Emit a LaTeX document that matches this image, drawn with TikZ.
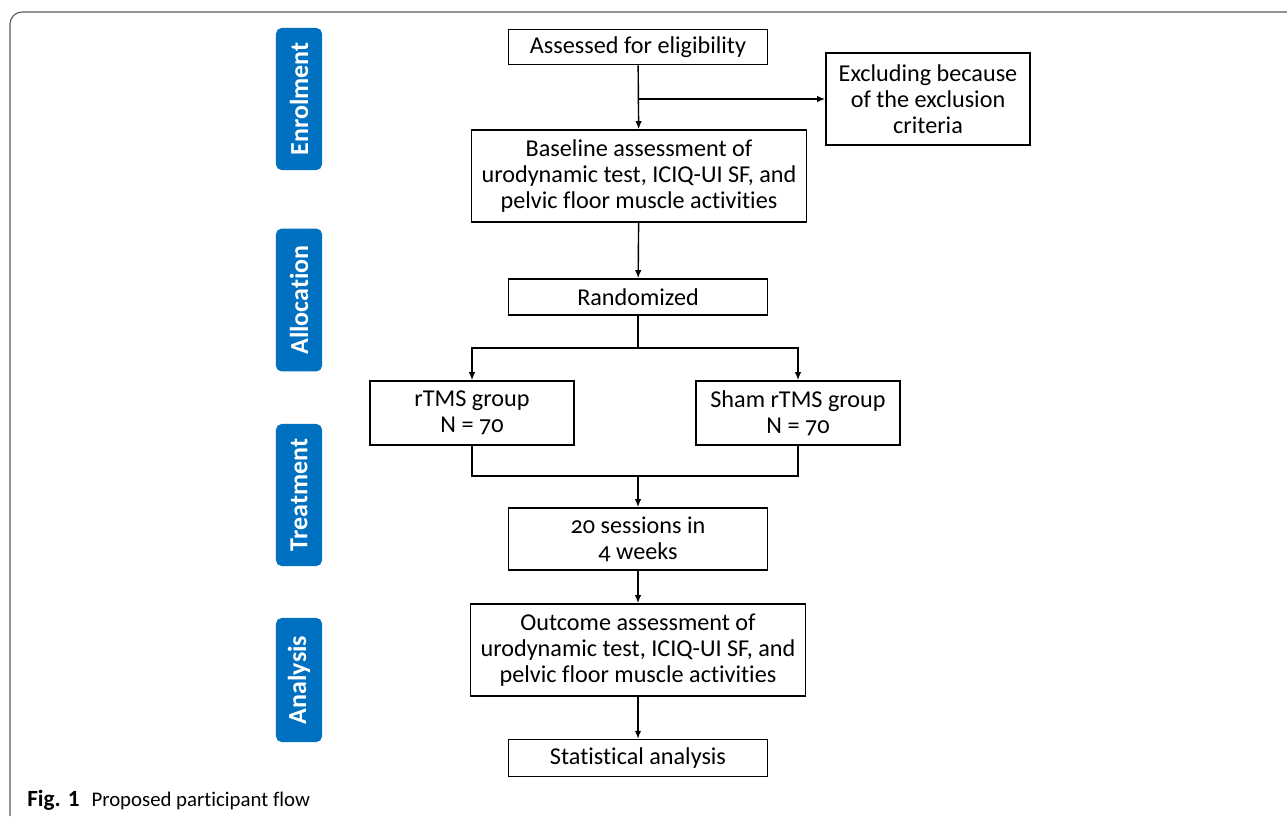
\documentclass[tikz,border=0pt]{standalone}
\usepackage{fontspec}
\setmainfont{Carlito}[Numbers=OldStyle, Ligatures=NoCommon]
\usepackage{xcolor}
\usepackage{tikz}
\usetikzlibrary{arrows.meta, positioning, calc}
\definecolor{tabblue}{RGB}{0,112,192}
\tikzset{
  flowbox/.style={
    draw, line width=1.1pt, align=center,
    font=\fontsize{17.2pt}{18.6pt}\selectfont, fill=white,
    minimum width=6.48cm, inner sep=2pt
  },
  flowboxwide/.style={
    flowbox, minimum width=8.38cm, minimum height=2.3cm
  },
  flowarrow/.style={
    -{Latex[length=2mm,width=1.6mm]}, line width=1pt
  },
  flowline/.style={line width=1pt},
  stagetab/.style={
    rectangle, rounded corners=4pt, fill=tabblue, text=white,
    rotate=90, font=\fontsize{18.5pt}{20pt}\selectfont\bfseries,
    minimum height=1.15cm, inner sep=0pt
  },
}

\begin{document}
\begin{tikzpicture}[x=0.025cm, y=-0.025cm]
  \useasboundingbox (0,0) rectangle (1287,816);

  % --- frame and caption ---
  \draw[gray!70!black, line width=0.8pt, rounded corners=0.3cm]
    (10,816) -- (10,12) -- (1287,12);
  \node[anchor=base west, font=\fontsize{14.8pt}{17pt}\selectfont\addfontfeatures{Numbers=Lining},
    inner sep=0pt] (caption) at (27,806)
    {{\fontsize{16.5pt}{17pt}\selectfont\textbf{Fig. 1}}\hspace{0.3cm}Proposed participant flow};

  % --- stage tabs ---
  \node[stagetab, minimum width=3.55cm] (tabenrol) at (299,99) {Enrolment};
  \node[stagetab, minimum width=3.57cm] (taballoc) at (299,300) {Allocation};
  \node[stagetab, minimum width=3.55cm] (tabtreat) at (299,495) {Treatment};
  \node[stagetab, minimum width=3.1cm] (tabanaly) at (299,680) {Analysis};

  % --- boxes ---
  \node[flowbox, minimum height=0.88cm] (assess) at (638,47) {Assessed for eligibility};
  \node[flowbox, minimum width=5.1cm, minimum height=2.3cm] (exclude) at (928,99)
    {Excluding because\\of the exclusion\\criteria};
  \node[flowboxwide] (baseline) at (639,176)
    {Baseline assessment of\\urodynamic test, ICIQ-UI SF, and\\pelvic floor muscle activities};
  \node[flowbox, minimum height=0.9cm] (random) at (638,297) {Randomized};
  \node[flowbox, minimum width=5.1cm, minimum height=1.6cm] (rtms) at (472,413)
    {rTMS group\\N = 70};
  \node[flowbox, minimum width=5.1cm, minimum height=1.6cm] (sham) at (798,413)
    {Sham rTMS group\\N = 70};
  \node[flowbox, minimum height=1.55cm] (sessions) at (638,539) {20 sessions in\\4 weeks};
  \node[flowboxwide] (outcome) at (638,650)
    {Outcome assessment of\\urodynamic test, ICIQ-UI SF, and\\pelvic floor muscle activities};
  \node[flowbox, minimum height=0.92cm] (stats) at (638,758) {Statistical analysis};

  % --- connectors ---
  \draw[flowarrow] (assess) -- (baseline);
  \draw[flowarrow] (assess.south |- exclude.west) -- (exclude.west);
  \draw[flowarrow] (baseline) -- (random);

  \coordinate (split) at (638,348);
  \draw[flowline] (random.south) -- (split);
  \draw[flowarrow] (split) -| (rtms.north);
  \draw[flowarrow] (split) -| (sham.north);

  \coordinate (merge) at (638,476);
  \draw[flowline] (rtms.south) |- (merge) -| (sham.south);
  \draw[flowarrow] (merge) -- (sessions.north);

  \draw[flowarrow] (sessions) -- (outcome);
  \draw[flowarrow] (outcome) -- (stats);
\end{tikzpicture}
\end{document}
